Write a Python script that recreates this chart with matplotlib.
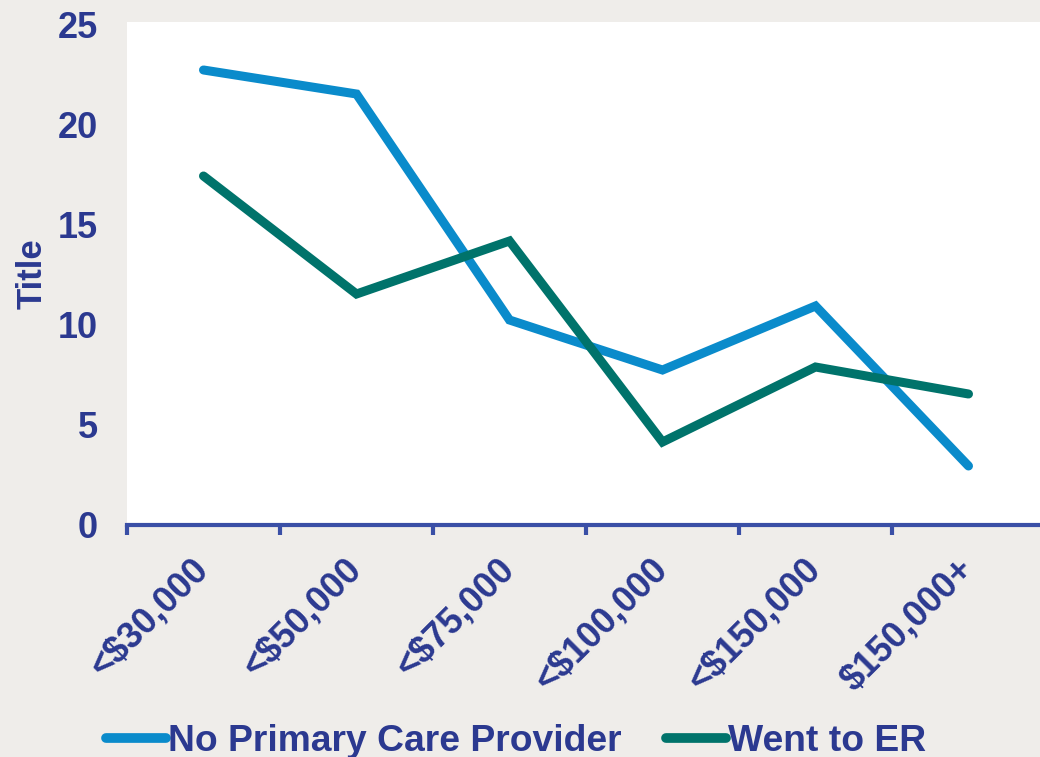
import numpy as np
import matplotlib.pyplot as plt
import matplotlib.transforms as mtransforms

categories = ['<$30,000', '<$50,000', '<$75,000', '<$100,000', '<$150,000', '$150,000+']
no_pcp = [22.75, 21.55, 10.25, 7.75, 10.95, 2.95]
went_er = [17.45, 11.55, 14.2, 4.15, 7.9, 6.55]

txt = '#2B3990'
bg = '#EFEDEA'

plt.rcParams['font.family'] = ['Liberation Sans', 'DejaVu Sans']
plt.rcParams['font.weight'] = 'bold'

fig = plt.figure(figsize=(10.4, 7.57), dpi=100, facecolor=bg)
ax = fig.add_axes([127 / 1040, 1 - 525 / 757, 918 / 1040, 503 / 757])
ax.set_facecolor('white')

x = np.arange(len(categories))
l1, = ax.plot(x, no_pcp, color='#0A8BCB', lw=6.5, solid_capstyle='round',
              solid_joinstyle='miter', label='No Primary Care Provider')
l2, = ax.plot(x, went_er, color='#00736B', lw=6.5, solid_capstyle='round',
              solid_joinstyle='miter', label='Went to ER')

ax.set_xlim(-0.5, 5.5)
ax.set_ylim(0, 25.15)
ax.set_yticks([0, 5, 10, 15, 20, 25])
ax.tick_params(axis='y', length=0, pad=21, labelsize=26, labelcolor=txt)

ax.set_xticks(x)
ax.set_xticklabels(categories, rotation=45, ha='right', va='center',
                   rotation_mode='anchor', fontsize=26, color=txt)
# nudge the rotated labels a little to the right
offset = mtransforms.ScaledTranslation(5 / 100, 0, fig.dpi_scale_trans)
for lab in ax.get_xticklabels():
    lab.set_transform(lab.get_transform() + offset)
ax.set_xticks(np.arange(-0.5, 6, 1), minor=True)
ax.tick_params(axis='x', which='major', length=0, pad=28)
ax.tick_params(axis='x', which='minor', length=7, width=3, color='#3A4FA6', direction='out')

for s in ['top', 'right', 'left']:
    ax.spines[s].set_visible(False)
ax.spines['bottom'].set_color('#3A4FA6')
ax.spines['bottom'].set_linewidth(3)

ax.set_ylabel('Title', fontsize=25, fontweight='bold', color=txt)
ax.yaxis.set_label_coords(-0.085, 0.5)

leg = fig.legend(handles=[l1, l2], loc='lower left', bbox_to_anchor=(0.088, -0.022),
                 ncol=2, frameon=False, fontsize=26.8, handlelength=1.6,
                 handletextpad=0.05, columnspacing=1.2, borderaxespad=0)
for t in leg.get_texts():
    t.set_color(txt)
for h in leg.get_lines():
    h.set_linewidth(7)

fig.savefig('out.png', dpi=100, facecolor=bg)
